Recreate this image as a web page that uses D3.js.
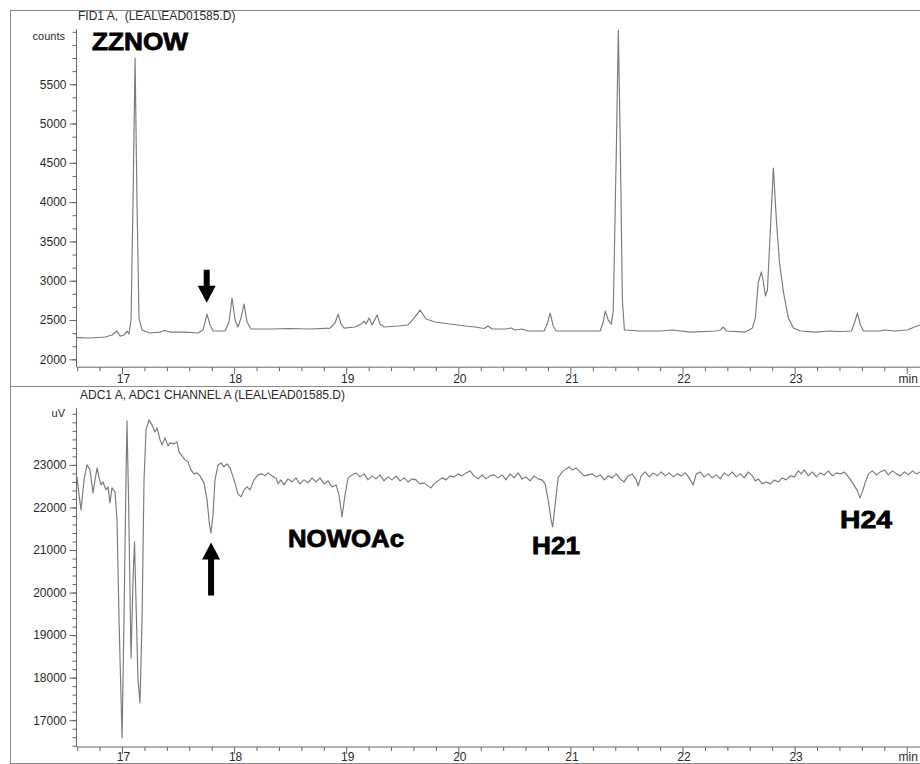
<!DOCTYPE html>
<html>
<head>
<meta charset="utf-8">
<script src="https://cdn.jsdelivr.net/npm/d3@7"></script>
<style>
  html, body { margin: 0; padding: 0; background: #fff; }
  svg { display: block; font-family: "Liberation Sans", Arial, sans-serif; }
  .title { white-space: pre; }
</style>
</head>
<body>
<svg id="chart" width="920" height="764"></svg>
<script>
// ---- FID trace (retention time in min, detector counts) ----
const fidTime = [16.594,16.710,16.844,16.906,16.951,16.978,17.013,17.040,17.058,17.076,17.094,17.112,17.129,17.147,17.174,17.245,17.335,17.379,17.424,17.558,17.674,17.718,17.754,17.781,17.808,17.915,17.950,17.977,18.004,18.030,18.057,18.084,18.111,18.146,18.316,18.494,18.673,18.851,18.896,18.923,18.950,18.977,19.075,19.128,19.155,19.173,19.200,19.227,19.271,19.297,19.333,19.458,19.547,19.601,19.654,19.708,19.788,19.922,20.056,20.145,20.225,20.261,20.297,20.413,20.466,20.502,20.565,20.618,20.761,20.788,20.815,20.842,20.869,21.083,21.261,21.288,21.306,21.333,21.360,21.378,21.405,21.423,21.441,21.459,21.477,21.619,21.798,21.905,22.066,22.289,22.333,22.360,22.387,22.556,22.618,22.645,22.672,22.699,22.717,22.735,22.753,22.779,22.806,22.833,22.860,22.896,22.940,22.985,23.047,23.181,23.306,23.395,23.502,23.529,23.556,23.583,23.610,23.753,23.797,23.886,24.002,24.065,24.114];
const fidCounts = [2277,2271,2284,2309,2360,2296,2309,2360,2322,2500,4027,5833,4027,2525,2373,2335,2347,2366,2347,2347,2335,2373,2576,2437,2360,2360,2475,2780,2500,2411,2525,2704,2475,2386,2386,2392,2386,2398,2462,2576,2449,2398,2411,2449,2487,2449,2525,2437,2564,2449,2411,2424,2437,2525,2627,2513,2475,2449,2424,2411,2392,2424,2386,2386,2398,2373,2386,2360,2360,2449,2589,2424,2360,2360,2360,2475,2615,2500,2449,2627,4663,6190,4663,2755,2373,2360,2360,2373,2347,2360,2373,2411,2360,2347,2398,2525,2984,3111,2984,2806,2882,3646,4434,3773,3238,2856,2525,2398,2360,2347,2360,2354,2360,2462,2589,2437,2360,2360,2373,2360,2373,2411,2437];

// ---- EAD trace (retention time in min, antenna signal in uV) ----
const eadTime = [16.594,16.612,16.630,16.657,16.683,16.710,16.737,16.755,16.773,16.791,16.808,16.826,16.853,16.871,16.888,16.906,16.933,16.951,16.969,16.996,17.013,17.031,17.040,17.054,17.076,17.094,17.107,17.120,17.138,17.156,17.174,17.192,17.210,17.236,17.263,17.290,17.308,17.335,17.352,17.379,17.406,17.424,17.459,17.486,17.504,17.531,17.557,17.584,17.611,17.638,17.664,17.691,17.727,17.754,17.776,17.789,17.807,17.825,17.852,17.879,17.905,17.932,17.959,17.995,18.030,18.057,18.084,18.111,18.137,18.173,18.209,18.245,18.271,18.298,18.334,18.369,18.387,18.414,18.441,18.476,18.512,18.548,18.583,18.619,18.655,18.691,18.726,18.762,18.798,18.833,18.869,18.905,18.931,18.958,18.985,19.012,19.047,19.083,19.119,19.155,19.190,19.226,19.262,19.297,19.333,19.369,19.404,19.440,19.476,19.512,19.547,19.583,19.619,19.654,19.690,19.726,19.752,19.779,19.815,19.850,19.886,19.922,19.957,19.993,20.029,20.065,20.100,20.136,20.172,20.208,20.243,20.279,20.314,20.350,20.386,20.421,20.457,20.493,20.529,20.564,20.600,20.636,20.672,20.707,20.743,20.770,20.797,20.823,20.837,20.859,20.886,20.922,20.958,20.984,21.011,21.047,21.082,21.118,21.154,21.190,21.225,21.261,21.297,21.332,21.368,21.404,21.439,21.475,21.511,21.546,21.582,21.600,21.627,21.663,21.698,21.734,21.770,21.806,21.841,21.877,21.913,21.948,21.984,22.020,22.055,22.091,22.118,22.154,22.189,22.225,22.261,22.296,22.332,22.368,22.404,22.439,22.475,22.511,22.546,22.582,22.618,22.645,22.671,22.707,22.743,22.779,22.814,22.850,22.886,22.921,22.957,22.993,23.029,23.055,23.082,23.118,23.154,23.189,23.225,23.261,23.297,23.332,23.368,23.404,23.439,23.475,23.502,23.529,23.556,23.578,23.600,23.627,23.654,23.689,23.725,23.761,23.797,23.832,23.868,23.904,23.940,23.975,24.011,24.047,24.083,24.114];
const eadSignal = [22718,22295,21943,22648,23000,22883,22342,22648,22930,22695,22530,22600,22413,22483,22107,22460,22366,21708,19358,16585,19358,22648,24034,22178,18464,20298,21191,19828,17948,17407,19358,22648,23823,24058,23940,23776,23870,23588,23470,23635,23447,23517,23494,23541,23306,23212,23118,23071,22883,22789,22813,22742,22577,22178,21590,21402,21825,22648,23000,23047,22953,23024,22930,22648,22319,22248,22413,22483,22413,22648,22765,22789,22742,22813,22742,22695,22554,22648,22530,22671,22600,22695,22554,22648,22577,22695,22600,22695,22554,22624,22483,22530,22295,21778,22295,22695,22765,22812,22718,22789,22648,22742,22671,22765,22624,22718,22648,22742,22624,22695,22600,22671,22648,22554,22577,22507,22460,22554,22624,22695,22648,22742,22718,22789,22742,22812,22859,22742,22671,22765,22671,22742,22765,22695,22765,22648,22789,22695,22812,22671,22718,22624,22742,22671,22648,22554,22178,21708,21543,22060,22695,22836,22906,22953,22883,22930,22836,22742,22765,22789,22718,22765,22648,22742,22695,22789,22671,22600,22742,22789,22648,22507,22742,22836,22718,22812,22742,22836,22742,22812,22718,22789,22742,22812,22695,22530,22789,22836,22718,22789,22695,22765,22671,22812,22742,22836,22718,22789,22695,22836,22742,22624,22671,22554,22600,22554,22648,22600,22695,22648,22742,22718,22859,22789,22883,22742,22836,22718,22812,22765,22859,22742,22812,22789,22836,22718,22624,22507,22389,22225,22366,22600,22789,22859,22765,22836,22883,22765,22859,22789,22742,22836,22765,22859,22789,22836];

// ---- axis ticks ----
const timeTicks = [17, 18, 19, 20, 21, 22, 23, 24];
const timeTickLabels = ["17", "18", "19", "20", "21", "22", "23", "min"];
const fidTicks = [2000, 2500, 3000, 3500, 4000, 4500, 5000, 5500];
const eadTicks = [17000, 18000, 19000, 20000, 21000, 22000, 23000];

// ---- peak annotations (anchored at the start of the text baseline) ----
const fidLabels = [{ text: "ZZNOW", t: 16.728, v: 5935 }];
const eadLabels = [
  { text: "NOWOAc", t: 18.476, v: 21073 },
  { text: "H21", t: 20.653, v: 20908 },
  { text: "H24", t: 23.400, v: 21519 }
];
const fidArrows = [{ t: 17.76, v: 2580 }];
const eadArrows = [{ t: 17.79, v: 21410 }];

const svg = d3.select("#chart");
const traceColor = "#7a7a7a";
const axisColor = "#666";
const textColor = "#2a2a2a";
// rendered width of each bold annotation
const labelWidth = { ZZNOW: 96, NOWOAc: 116, H21: 48, H24: 52 };

// shared retention-time scale
const x = d3.scaleLinear().domain([16.594, 24.114]).range([77, 920]);
const yFid = d3.scaleLinear().domain([1900, 6200]).range([367.2, 29.2]);
const yEad = d3.scaleLinear().domain([16370, 24340]).range([747, 407.9]);

// frame lines around the two panels
const frame = svg.append("g").attr("stroke", "#8a8a8a").attr("stroke-width", 1).attr("fill", "none");
frame.append("line").attr("x1", 10).attr("x2", 920).attr("y1", 10.5).attr("y2", 10.5);
frame.append("line").attr("x1", 10.5).attr("x2", 10.5).attr("y1", 10).attr("y2", 764);
frame.append("line").attr("x1", 10).attr("x2", 920).attr("y1", 386.5).attr("y2", 386.5);
frame.append("line").attr("x1", 10).attr("x2", 920).attr("y1", 763.5).attr("y2", 763.5);

function stepRange(a, b, step) {
  const out = [];
  for (let k = 0; a + k * step <= b + 1e-9; k++) out.push(a + k * step);
  return out;
}

function drawPanel(opts) {
  const g = svg.append("g");
  const y = opts.y;
  const yBase = y.range()[0];

  // time axis: minor ticks then labelled major ticks
  const minorX = stepRange(16.6, 24.1, 0.2).filter(t => Math.abs(t - Math.round(t)) > 0.01);
  const xa = g.append("g").attr("transform", `translate(0,${yBase})`);
  xa.append("line").attr("x1", x.range()[0]).attr("x2", 920).attr("stroke", axisColor);
  xa.selectAll("line.minor").data(minorX).join("line").attr("class", "minor")
    .attr("x1", d => x(d)).attr("x2", d => x(d)).attr("y1", 0).attr("y2", 4).attr("stroke", axisColor);
  xa.selectAll("line.major").data(timeTicks).join("line").attr("class", "major")
    .attr("x1", d => x(d)).attr("x2", d => x(d)).attr("y1", 0).attr("y2", 7).attr("stroke", axisColor);
  xa.selectAll("text").data(timeTicks).join("text")
    .attr("x", d => x(d) + 1).attr("y", opts.xLabelDy)
    .attr("text-anchor", "middle").attr("font-size", 12).attr("fill", textColor)
    .text((d, i) => timeTickLabels[i]);

  // signal axis
  const ya = d3.axisLeft(y).tickValues(opts.ticks).tickSize(7).tickPadding(3).tickFormat(d3.format("d"));
  const yMinor = d3.axisLeft(y).tickValues(opts.minor).tickSize(4).tickFormat("");
  const ag = g.append("g").attr("transform", "translate(76.5,0)");
  ag.append("g").call(yMinor);
  ag.append("g").call(ya);
  ag.selectAll(".domain").remove();
  ag.selectAll("line").attr("stroke", axisColor);
  ag.selectAll("text").attr("font-size", 12).attr("fill", textColor)
    .attr("font-family", "\"Liberation Sans\", Arial, sans-serif");
  g.append("line").attr("x1", 76.5).attr("x2", 76.5)
    .attr("y1", y.range()[1]).attr("y2", yBase).attr("stroke", axisColor);
  g.append("text").attr("x", 65).attr("y", opts.unitY).attr("text-anchor", "end")
    .attr("font-size", 11).attr("fill", textColor).text(opts.unit);

  // panel title
  g.append("text").attr("class", "title").attr("x", opts.titleX).attr("y", opts.titleY)
    .attr("font-size", 12).attr("fill", textColor).text(opts.title);

  // trace
  const line = d3.line().x(d => x(d[0])).y(d => y(d[1]));
  const pts = opts.time.map((t, i) => [t, opts.values[i]]);
  g.append("path").datum(pts).attr("d", line)
    .attr("fill", "none").attr("stroke", traceColor).attr("stroke-width", 1.15)
    .attr("stroke-linejoin", "round");

  // bold peak labels
  g.selectAll("text.peak").data(opts.labels).join("text").attr("class", "peak")
    .attr("x", d => x(d.t)).attr("y", d => y(d.v))
    .attr("font-size", 24).attr("font-weight", "bold").attr("fill", "#000")
    .attr("stroke", "#000").attr("stroke-width", 0.8)
    .attr("textLength", d => labelWidth[d.text]).attr("lengthAdjust", "spacingAndGlyphs")
    .text(d => d.text);
  return g;
}

const fidPanel = drawPanel({
  y: yFid, ticks: fidTicks, minor: stepRange(2000, 6200, 500 / 3),
  time: fidTime, values: fidCounts, labels: fidLabels,
  unit: "counts", unitY: 40, title: "FID1 A,  (LEAL\\EAD01585.D)", titleX: 78, titleY: 20,
  xLabelDy: 16
});
const eadPanel = drawPanel({
  y: yEad, ticks: eadTicks, minor: stepRange(16400, 24200, 200),
  time: eadTime, values: eadSignal, labels: eadLabels,
  unit: "uV", unitY: 417, title: "ADC1 A, ADC1 CHANNEL A (LEAL\\EAD01585.D)", titleX: 80, titleY: 399,
  xLabelDy: 14
});

// arrows marking the active peak: down arrow above the FID peak, up arrow under the EAD dip
function arrow(g, cx, tipY, dir) {
  // dir = 1: pointing down, -1: pointing up
  const head = 17, halfW = 9, shaftW = 3, shaftLen = dir > 0 ? 16 : 36;
  const baseY = tipY - dir * head;
  const endY = baseY - dir * shaftLen;
  const p = d3.path();
  p.moveTo(cx, tipY);
  p.lineTo(cx - halfW, baseY);
  p.lineTo(cx - shaftW, baseY);
  p.lineTo(cx - shaftW, endY);
  p.lineTo(cx + shaftW, endY);
  p.lineTo(cx + shaftW, baseY);
  p.lineTo(cx + halfW, baseY);
  p.closePath();
  g.append("path").attr("d", p.toString()).attr("fill", "#000");
}
fidArrows.forEach(a => arrow(fidPanel, x(a.t) - 1, yFid(a.v) - 11, 1));
eadArrows.forEach(a => arrow(eadPanel, x(a.t), yEad(a.v) + 10, -1));
</script>
</body>
</html>
